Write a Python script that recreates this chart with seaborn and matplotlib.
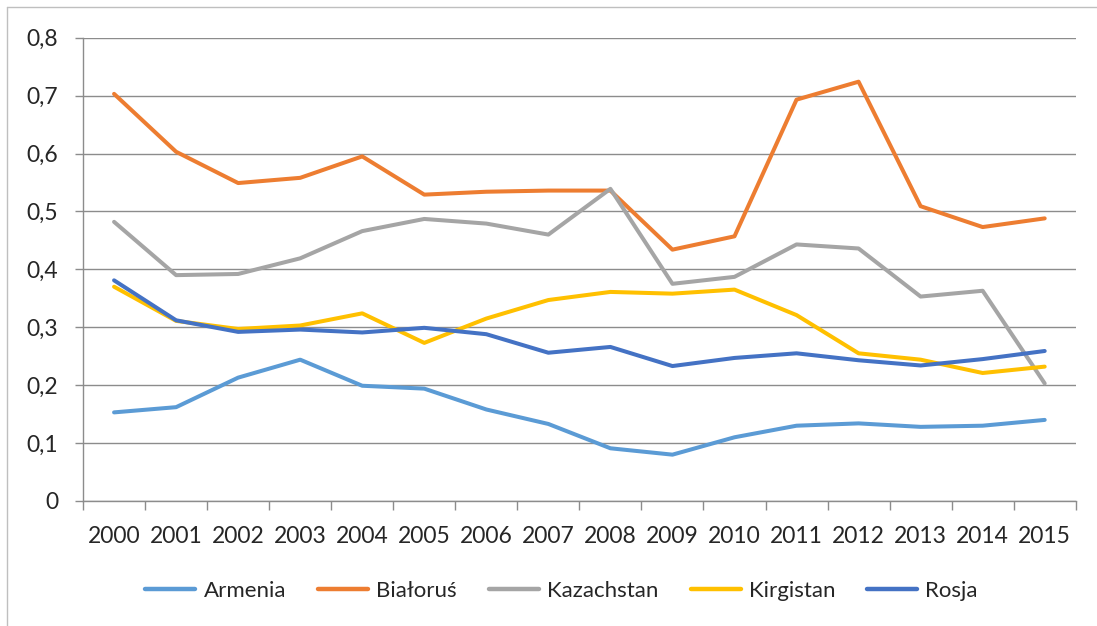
import matplotlib
matplotlib.use("Agg")
import matplotlib.pyplot as plt
import pandas as pd
import seaborn as sns
import numpy as np

# Data
years = [str(y) for y in range(2000, 2016)]
armenia = [0.153, 0.162, 0.213, 0.244, 0.199, 0.194, 0.158, 0.133, 0.091, 0.080,
           0.110, 0.130, 0.134, 0.128, 0.130, 0.140]
bialorus = [0.703, 0.603, 0.549, 0.558, 0.595, 0.529, 0.534, 0.536, 0.536, 0.434,
            0.457, 0.693, 0.724, 0.509, 0.473, 0.488]
kazachstan = [0.482, 0.390, 0.392, 0.419, 0.466, 0.487, 0.479, 0.460, 0.539, 0.375,
              0.387, 0.443, 0.436, 0.353, 0.363, 0.203]
kirgistan = [0.370, 0.311, 0.297, 0.303, 0.324, 0.273, 0.315, 0.347, 0.361, 0.358,
             0.365, 0.321, 0.255, 0.244, 0.221, 0.232]
rosja = [0.381, 0.312, 0.292, 0.296, 0.291, 0.299, 0.288, 0.256, 0.266, 0.233,
         0.247, 0.255, 0.243, 0.234, 0.245, 0.259]
countries = ['Armenia', 'Białoruś', 'Kazachstan', 'Kirgistan', 'Rosja']
colors = ['#5B9BD5', '#ED7D31', '#A5A5A5', '#FFC000', '#4472C4']

df = pd.DataFrame({'Rok': years * 5,
                   'Kraj': np.repeat(countries, len(years)),
                   'Wartość': armenia + bialorus + kazachstan + kirgistan + rosja})

sns.set_style('white')
plt.rcParams['font.family'] = ['Lato', 'DejaVu Sans']

fig = plt.figure(figsize=(10.97, 6.26), dpi=100)
ax = fig.add_axes([0.0757, 0.1997, 0.9049, 0.7401])

sns.lineplot(data=df, x='Rok', y='Wartość', hue='Kraj', palette=dict(zip(countries, colors)),
             linewidth=2.9, ax=ax, legend=True, sort=False)

ax.set_xlim(-0.5, len(years) - 0.5)
ax.set_ylim(0, 0.8)
ax.set_yticks(np.arange(0, 0.81, 0.1))
ax.set_yticklabels(['0'] + [f'0,{i}' for i in range(1, 9)])
ax.set_xticks(range(len(years)))
ax.set_xticklabels(years)
ax.set_xticks(np.arange(-0.5, len(years), 1), minor=True)
ax.set_xlabel('')
ax.set_ylabel('')

ax.grid(axis='y', color='#8c8c8c', linewidth=1.0)
ax.set_axisbelow(True)
for s in ['top', 'right']:
    ax.spines[s].set_visible(False)
for s in ['left', 'bottom']:
    ax.spines[s].set_color('#8c8c8c')
    ax.spines[s].set_linewidth(1.0)

ax.tick_params(axis='y', length=5.8, width=1, color='#8c8c8c', pad=12, labelsize=16.5, left=True)
ax.tick_params(axis='x', which='major', length=0, pad=18, labelsize=16.5)
ax.tick_params(axis='x', which='minor', length=6.5, width=1, color='#8c8c8c', bottom=True)

handles, labels = ax.get_legend_handles_labels()
ax.get_legend().remove()
for h in handles:
    h.set_linewidth(3.2)
fig.legend(handles, labels, loc='center', bbox_to_anchor=(0.512, 1 - 591 / 626), ncol=5,
           frameon=False, fontsize=16, handlelength=2.25, handletextpad=0.36, columnspacing=1.45)

# light frame around the chart area
fig.add_artist(plt.Line2D([7 / 1097, 1.0], [1 - 7 / 626, 1 - 7 / 626], color='#bfbfbf', linewidth=1))
fig.add_artist(plt.Line2D([7 / 1097, 7 / 1097], [0, 1 - 7 / 626], color='#bfbfbf', linewidth=1))

fig.savefig('out.png', dpi=100)
